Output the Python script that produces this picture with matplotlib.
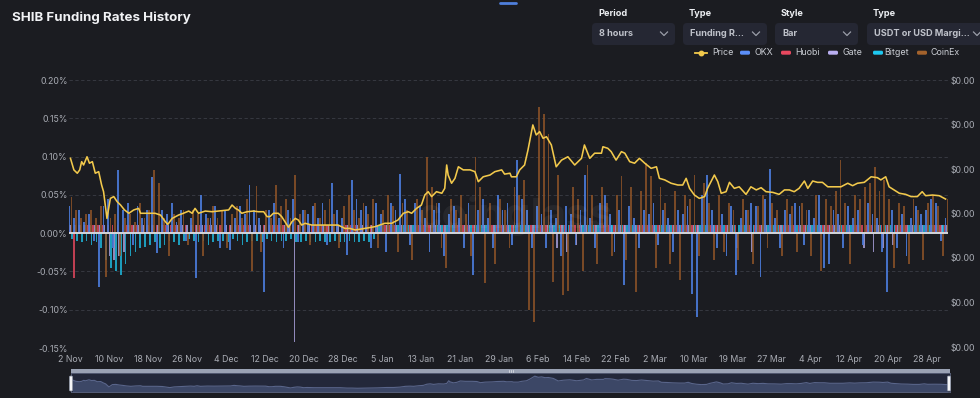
import matplotlib
matplotlib.use("Agg")
import matplotlib.pyplot as plt
from matplotlib.patches import FancyBboxPatch, Rectangle
import numpy as np

plt.rcParams['font.family'] = ['Inter', 'DejaVu Sans']

# ---------------- data ----------------
title = "SHIB Funding Rates History"
x_labels = ["2 Nov", "10 Nov", "18 Nov", "26 Nov", "4 Dec", "12 Dec", "20 Dec", "28 Dec",
            "5 Jan", "13 Jan", "21 Jan", "29 Jan", "6 Feb", "14 Feb", "22 Feb", "2 Mar",
            "10 Mar", "19 Mar", "27 Mar", "4 Apr", "12 Apr", "20 Apr", "28 Apr"]
tick_days = list(range(0, 177, 8))
rate_ticks = [-0.15, -0.10, -0.05, 0.00, 0.05, 0.10, 0.15, 0.20]
price_ticks = [4, 6, 8, 10, 12, 14, 16]   # SHIB price, 1e-6 USD (all shown as $0.00)

# funding rates (%), one value per day, day 0 = 2 Nov
okx = [0.035, 0.02, 0.03, 0.015, 0.025, -0.01, -0.07, 0.035, 0.045, -0.02,
       0.082, 0.03, 0.04, -0.015, 0.035, 0.02, 0.03, 0.073, -0.026, 0.03,
       0.025, 0.04, 0.015, 0.03, -0.01, 0.02, -0.059, 0.05, 0.025, 0.02,
       0.035, -0.02, 0.03, -0.022, 0.02, 0.035, 0.025, 0.063, 0.03, 0.02,
       -0.077, 0.03, 0.04, 0.02, -0.02, 0.03, 0.045, -0.012, 0.03, 0.025,
       0.035, 0.02, 0.04, -0.015, 0.065, 0.03, 0.02, -0.029, 0.069, 0.045,
       0.03, 0.035, -0.02, 0.04, 0.025, -0.025, 0.04, 0.03, 0.077, 0.045,
       -0.015, 0.04, 0.035, 0.02, -0.025, 0.03, 0.04, -0.03, 0.025, 0.035,
       0.02, -0.02, 0.04, -0.055, 0.03, 0.045, 0.02, -0.02, 0.05, 0.03,
       0.04, -0.015, 0.095, 0.045, 0.03, -0.02, 0.035, 0.025, -0.02, 0.03,
       0.02, -0.03, 0.035, 0.025, -0.015, 0.03, 0.076, 0.02, -0.02, 0.04,
       0.05, 0.025, -0.025, 0.03, -0.068, 0.035, 0.02, -0.02, 0.03, 0.025,
       0.04, -0.015, 0.03, 0.02, -0.025, 0.03, 0.025, 0.035, -0.08, -0.109,
       0.05, 0.076, 0.03, -0.02, 0.025, -0.03, 0.035, -0.055, 0.02, 0.03,
       0.04, 0.035, -0.057, 0.045, 0.084, 0.02, -0.02, 0.03, 0.025, 0.04,
       0.035, -0.015, 0.03, 0.02, 0.05, -0.045, -0.04, 0.03, 0.025, -0.02,
       0.035, 0.02, 0.03, -0.015, 0.04, 0.025, 0.02, -0.025, -0.077, 0.03,
       -0.02, 0.025, -0.03, 0.02, 0.035, 0.025, 0.03, 0.045, 0.04, -0.01,
       0.02]

coinex = [0.047, 0.03, 0.02, 0.025, 0.03, 0.02, 0.035, -0.057, 0.02, 0.025,
          -0.03, 0.02, 0.025, 0.015, 0.04, 0.02, 0.03, 0.083, 0.066, 0.02,
          -0.03, 0.025, 0.02, 0.03, -0.015, 0.03, 0.025, -0.03, 0.02, 0.035,
          0.02, 0.03, -0.02, 0.025, 0.035, 0.02, 0.045, -0.05, 0.062, -0.025,
          0.03, 0.02, 0.063, 0.035, 0.045, 0.02, 0.076, 0.025, 0.03, -0.015,
          0.04, 0.02, 0.03, 0.045, 0.025, -0.02, 0.035, 0.05, 0.03, 0.02,
          0.04, 0.025, 0.045, -0.02, 0.03, 0.05, 0.035, -0.025, 0.04, 0.03,
          -0.035, 0.045, 0.03, 0.1, 0.06, 0.04, -0.02, -0.046, 0.045, 0.03,
          0.05, 0.025, -0.03, 0.1, 0.06, -0.065, 0.04, -0.04, 0.045, 0.03,
          -0.02, 0.06, 0.05, 0.07, -0.1, -0.116, 0.165, 0.155, 0.13, -0.064,
          0.076, -0.081, -0.075, 0.06, 0.045, -0.05, 0.089, 0.05, -0.04, 0.06,
          0.04, -0.03, 0.05, 0.075, -0.035, 0.06, -0.077, 0.055, 0.091, 0.075,
          -0.045, 0.06, 0.04, -0.04, 0.055, -0.061, 0.05, 0.045, 0.076, -0.03,
          0.065, 0.04, -0.035, 0.05, -0.025, 0.04, 0.03, -0.035, 0.045, 0.03,
          -0.04, 0.035, 0.05, -0.02, 0.04, 0.03, -0.03, 0.045, 0.035, -0.025,
          0.04, 0.03, -0.03, 0.05, -0.05, 0.045, 0.035, 0.055, 0.095, 0.04,
          -0.04, 0.05, 0.045, 0.06, 0.065, 0.087, 0.055, 0.07, 0.045, -0.045,
          0.04, 0.035, -0.04, 0.045, 0.03, -0.035, 0.04, 0.05, 0.035, -0.03,
          0.045]

huobi = [0.01] * 181
huobi[1] = -0.058

gate = [0.01] * 181
gate_dips = {8: -0.03, 9: -0.035, 10: -0.03, 11: -0.025, 46: -0.142, 100: -0.02,
             102: -0.025, 104: -0.015, 137: -0.02, 140: -0.025, 163: -0.02,
             165: -0.025, 167: -0.02, 169: -0.015}
for k, v in gate_dips.items():
    gate[k] = v

bitget = [-0.008, -0.01, -0.012, -0.01, -0.015, -0.012, -0.02, -0.035, -0.045, -0.05,
          -0.055, -0.04, -0.03, -0.025, -0.02, -0.018, -0.015, -0.012, -0.02, -0.015,
          -0.01, -0.012, -0.015, -0.01, -0.008, -0.01, -0.012, -0.01, -0.015, -0.012,
          -0.01, -0.01, -0.012, -0.008, -0.01, -0.015, -0.012, -0.01, -0.01, -0.012,
          -0.008, -0.01, -0.012, -0.01, -0.01, -0.008, -0.012, -0.011, -0.01, -0.012,
          -0.011, -0.01, -0.012, -0.011, -0.01, -0.011, -0.012, -0.01, -0.011, -0.012,
          -0.01, -0.011, -0.008] + [0.01] * 118

price_days = [0.0, 0.7, 1.4, 1.9, 2.3, 2.7, 3.4, 3.9, 4.5, 5.1,
              5.8, 6.4, 6.8, 7.5, 8.2, 8.9, 9.6, 10.3, 11.1, 12.0,
              13.0, 14.0, 14.4, 15.4, 17.4, 18.5, 19.5, 20.0, 20.9, 22.2,
              23.2, 24.3, 25.0, 25.6, 26.3, 27.7, 29.1, 30.4, 32.5, 33.2,
              33.9, 34.5, 35.2, 36.3, 37.6, 38.6, 39.7, 40.4, 41.0, 41.7,
              42.7, 43.4, 44.1, 44.8, 45.5, 46.2, 46.8, 47.5, 48.2, 49.6,
              52.3, 55.0, 56.4, 57.4, 58.5, 60.5, 62.6, 64.6, 66.0, 67.3,
              68.4, 69.4, 70.1, 71.1, 72.1, 72.8, 73.5, 74.2, 75.2, 76.3,
              76.9, 77.3, 77.6, 78.3, 79.0, 79.7, 80.7, 82.1, 83.1, 83.8,
              84.8, 86.2, 87.2, 88.6, 89.2, 90.3, 90.6, 91.6, 92.3, 93.3,
              94.0, 95.0, 95.7, 96.4, 97.1, 97.8, 98.8, 99.8, 100.9, 102.2,
              103.6, 105.0, 105.6, 106.7, 107.7, 109.1, 109.4, 110.4, 111.1, 112.1,
              113.2, 113.9, 114.9, 115.9, 116.9, 118.0, 119.3, 120.4, 121.0, 122.1,
              123.4, 124.8, 125.8, 126.5, 127.2, 128.2, 129.2, 130.3, 130.9, 132.3,
              133.0, 133.7, 134.7, 135.4, 136.4, 137.4, 138.8, 139.8, 140.9, 141.9,
              142.9, 144.3, 145.6, 146.7, 147.7, 148.7, 149.7, 150.8, 151.5, 152.5,
              153.5, 154.5, 155.6, 156.9, 158.3, 159.7, 160.7, 161.7, 163.1, 164.5,
              165.8, 166.5, 167.5, 168.2, 169.2, 170.3, 171.6, 172.7, 174.0, 175.0,
              175.7, 177.1, 178.5, 179.8]

price = [12.48, 11.96, 11.81, 11.96, 12.33, 12.18, 12.55, 12.26, 12.33, 11.81,
         11.88, 11.28, 10.98, 9.78, 10.68, 10.76, 10.53, 10.38, 10.16, 10.01,
         10.16, 10.23, 10.01, 10.01, 10.01, 9.93, 9.63, 9.51, 9.78, 9.93,
         10.01, 10.11, 10.01, 10.23, 10.01, 10.11, 10.08, 10.11, 10.16, 10.38,
         10.23, 10.16, 10.01, 10.08, 10.11, 10.08, 10.08, 9.86, 9.86, 10.01,
         10.01, 9.86, 9.62, 9.38, 9.63, 9.78, 9.71, 9.48, 9.56, 9.48,
         9.48, 9.48, 9.33, 9.33, 9.26, 9.33, 9.41, 9.56, 9.56, 9.71,
         10.01, 10.08, 10.01, 10.23, 10.38, 10.83, 10.98, 10.76, 10.98, 10.91,
         11.13, 12.18, 11.73, 11.36, 11.58, 12.10, 11.96, 11.96, 11.88, 11.43,
         11.65, 11.73, 11.88, 11.96, 11.77, 11.81, 11.65, 11.65, 11.96, 12.18,
         12.85, 13.98, 13.53, 13.68, 13.38, 13.45, 13.08, 12.10, 12.40, 12.55,
         12.18, 12.48, 13.08, 12.48, 12.71, 12.71, 13.00, 12.93, 12.78, 12.40,
         12.78, 12.71, 12.33, 12.26, 12.48, 12.26, 12.03, 12.10, 11.58, 11.51,
         11.36, 11.28, 11.28, 11.58, 11.13, 10.83, 10.68, 10.76, 11.13, 11.73,
         11.43, 10.91, 10.98, 11.40, 11.13, 11.20, 10.86, 11.20, 11.06, 11.16,
         10.98, 10.95, 10.86, 11.06, 11.06, 10.98, 11.13, 11.46, 11.13, 11.46,
         11.40, 11.40, 11.20, 11.20, 11.20, 11.36, 11.25, 11.36, 11.40, 11.65,
         11.61, 11.51, 11.65, 11.20, 11.06, 10.91, 10.86, 10.76, 10.76, 10.98,
         10.80, 10.83, 10.80, 10.65]

series_names = ["Price", "OKX", "Huobi", "Gate", "Bitget", "CoinEx"]
series_colors = ["#f2c94c", "#5b8ff9", "#e8485f", "#b9aef0", "#1ec8f0", "#a3622c"]

# ---------------- styling ----------------
W, H = 980, 398
BG = "#1b1c21"
TXT = "#a9acb4"
fig = plt.figure(figsize=(W / 100, H / 100), dpi=100, facecolor=BG)

def fbox(x0, y0, x1, y1):
    return [x0 / W, 1 - y1 / H, (x1 - x0) / W, (y1 - y0) / H]

X0, X1 = 69, 948
ax = fig.add_axes(fbox(X0, 80, X1, 348))
ax.set_facecolor(BG)
days = np.arange(len(okx))

ax.bar(days - 0.33, huobi, width=0.34, color=series_colors[2], alpha=0.8, linewidth=0, zorder=2)
ax.bar(days, gate, width=0.34, color=series_colors[3], alpha=0.75, linewidth=0, zorder=2)
ax.bar(days + 0.33, bitget, width=0.34, color=series_colors[4], alpha=0.75, linewidth=0, zorder=2)
ax.bar(days - 0.22, okx, width=0.38, color="#4a7ad8", alpha=0.9, linewidth=0, zorder=2.2)
ax.bar(days + 0.22, coinex, width=0.38, color="#8a5227", alpha=0.85, linewidth=0, zorder=2.1)

ax.axhline(0, color="#d4d6dc", lw=1.4, zorder=3)
ax.set_xlim(-0.3, 180.3)
ax.set_ylim(-0.15, 0.20)
ax.set_yticks(rate_ticks)
ax.set_yticklabels([f"{v:.2f}%" for v in rate_ticks])
ax.set_xticks(tick_days)
ax.set_xticklabels(x_labels)
ax.tick_params(axis="both", length=0, colors=TXT, labelsize=6.3)
ax.tick_params(axis="y", pad=1)
ax.tick_params(axis="x", pad=5)
for y in rate_ticks:
    if y != 0:
        ax.axhline(y, color="#3b3d45", lw=0.6, ls=(0, (4, 3)), zorder=1)
for s in ax.spines.values():
    s.set_visible(False)

ax2 = ax.twinx()
ax2.plot(price_days, price, color=series_colors[0], lw=1.15, zorder=5)
ax2.set_ylim(price_ticks[0] - (price_ticks[-1] - price_ticks[0]) / 267.0, price_ticks[-1])
ax2.set_yticks(price_ticks)
ax2.set_yticklabels(["$0.00"] * len(price_ticks))
ax2.tick_params(axis="y", length=0, colors=TXT, labelsize=6.3, pad=2)
for s in ax2.spines.values():
    s.set_visible(False)

# navigator
nav = fig.add_axes(fbox(71, 373, 950, 392))
nav.set_facecolor("#23283a")
nav.fill_between(price_days, price, 0, color="#3c4766", lw=0)
nav.plot(price_days, price, color="#59658a", lw=0.8)
nav.set_xlim(-0.3, 180.3)
nav.set_ylim(7.8, 15.2)
nav.set_xticks([])
nav.set_yticks([])
for s in nav.spines.values():
    s.set_color("#59617a")
    s.set_linewidth(0.6)

# overlay for header, legend and navigator chrome
ov = fig.add_axes([0, 0, 1, 1], zorder=10)
ov.set_xlim(0, W)
ov.set_ylim(H, 0)
ov.axis("off")
ov.patch.set_alpha(0)

ov.text(12, 18, title, color="#f1f2f5", fontsize=9.6, fontweight="bold", va="center", ha="left")
ov.plot([500, 516], [3, 3], color="#4f7fdc", lw=2, solid_capstyle="round")

headers = ["Period", "Type", "Style", "Type"]
boxes = [(592, 675), (683, 767), (775, 858), (867, 990)]
box_text = ["8 hours", "Funding R...", "Bar", "USDT or USD Margi..."]
for h, (bx0, bx1), bt in zip(headers, boxes, box_text):
    ov.text(bx0 + 6, 14, h, color="#eceef2", fontsize=6.6, fontweight="bold", va="center", ha="left")
    ov.add_patch(FancyBboxPatch((bx0, 23), bx1 - bx0, 22, boxstyle="round,pad=0,rounding_size=4",
                                fc="#252733", ec="none"))
    ov.text(bx0 + 7, 33.5, bt, color="#bfc2ca", fontsize=6.6, fontweight="bold", va="center", ha="left")
    cx = bx1 - 11 if bx1 < 980 else 977
    ov.plot([cx - 3.5, cx, cx + 3.5], [32, 35.5, 32], color="#9a9ea8", lw=0.9)

# legend
leg_y = 52.7
ov.plot([695, 707], [leg_y, leg_y], color=series_colors[0], lw=1.3)
ov.plot([701], [leg_y], marker="o", ms=3.2, color=series_colors[0])
ov.text(712, leg_y, "Price", color="#c9ccd3", fontsize=6.4, va="center", ha="left")
leg_items = [(740, 754, 1), (781, 795, 2), (828, 842, 3), (873, 884, 4), (917, 930, 5)]
for ix, tx, si in leg_items:
    ov.add_patch(FancyBboxPatch((ix, leg_y - 2), 10, 4, boxstyle="round,pad=0,rounding_size=1.5",
                                fc=series_colors[si], ec="none"))
    ov.text(tx, leg_y, series_names[si], color="#c9ccd3", fontsize=6.4, va="center", ha="left")

# watermark
ov.text(515, 216, "coinglass", color="white", alpha=0.05, fontsize=30, fontweight="bold",
        ha="center", va="center")

# navigator chrome
ov.add_patch(Rectangle((71, 368.5), 879, 4.5, fc="#9aa2b4", ec="none"))
for gx in (509, 511, 513):
    ov.plot([gx, gx], [369.5, 372], color="#e5e7ec", lw=0.5)
for hx in (71, 949):
    ov.add_patch(FancyBboxPatch((hx - 1.6, 376), 3.2, 15, boxstyle="round,pad=0,rounding_size=1.2",
                                fc="#f4f5f7", ec="#8d94a6", lw=0.5))

fig.savefig("out.png", dpi=100, facecolor=BG)
